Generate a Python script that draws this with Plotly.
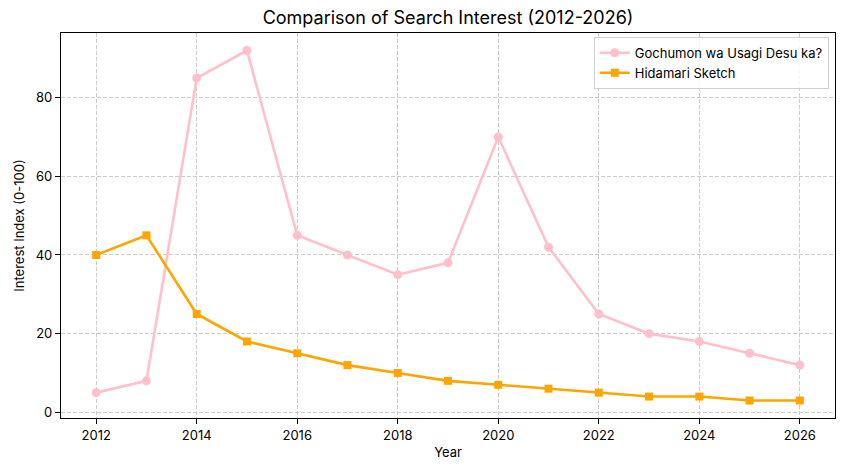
import plotly.graph_objects as go

years = list(range(2012, 2027))
gochiusa = [5, 8, 85, 92, 45, 40, 35, 38, 70, 42, 25, 20, 18, 15, 12]
hidamari = [40, 45, 25, 18, 15, 12, 10, 8, 7, 6, 5, 4, 4, 3, 3]
x_ticks = [2012, 2014, 2016, 2018, 2020, 2022, 2024, 2026]
y_ticks = [0, 20, 40, 60, 80]

FONT = "Inter, Open Sans, sans-serif"
W, H = 837, 465  # page body has an 8px margin

fig = go.Figure()
fig.add_trace(go.Scatter(
    x=years, y=gochiusa, mode="lines+markers", name="Gochumon wa Usagi Desu ka?",
    line=dict(color="pink", width=2.6),
    marker=dict(symbol="circle", size=9, color="pink"),
))
fig.add_trace(go.Scatter(
    x=years, y=hidamari, mode="lines+markers", name="Hidamari Sketch",
    line=dict(color="orange", width=2.6),
    marker=dict(symbol="square", size=8, color="orange"),
))

axis_common = dict(
    showline=True, linecolor="black", linewidth=1.2, mirror=True,
    ticks="outside", ticklen=5, tickcolor="black", tickwidth=1,
    showgrid=True, gridcolor="#cccccc", griddash="4px,2px", gridwidth=1,
    zeroline=False, tickfont=dict(size=13, color="black", family=FONT),
    automargin=False,
)

L, R, T, B = 53, 10, 25, 55
fig.update_layout(
    width=W, height=H,
    margin=dict(l=L, r=R, t=T, b=B, autoexpand=False),
    paper_bgcolor="white", plot_bgcolor="white",
    font=dict(family=FONT, color="black"),
    title=dict(text="Comparison of Search Interest (2012-2026)",
               x=(L + (W - R)) / 2 / W, xanchor="center",
               y=1 - 10 / H, yanchor="middle", automargin=False,
               font=dict(size=18, color="black", family=FONT)),
    xaxis=dict(range=[2011.3, 2026.7], tickvals=x_ticks,
               title=dict(text="Year", font=dict(size=13), standoff=6), **axis_common),
    yaxis=dict(range=[-1.45, 96.45], tickvals=y_ticks,
               title=dict(text="Interest Index (0-100)", font=dict(size=13), standoff=8), **axis_common),
    legend=dict(x=0.992, y=0.99, xanchor="right", yanchor="top",
                bgcolor="rgba(255,255,255,0.8)", bordercolor="#d0d0d0", borderwidth=1,
                font=dict(size=13, color="black", family=FONT), tracegroupgap=2),
    showlegend=True,
)

fig.write_html("out.html")
